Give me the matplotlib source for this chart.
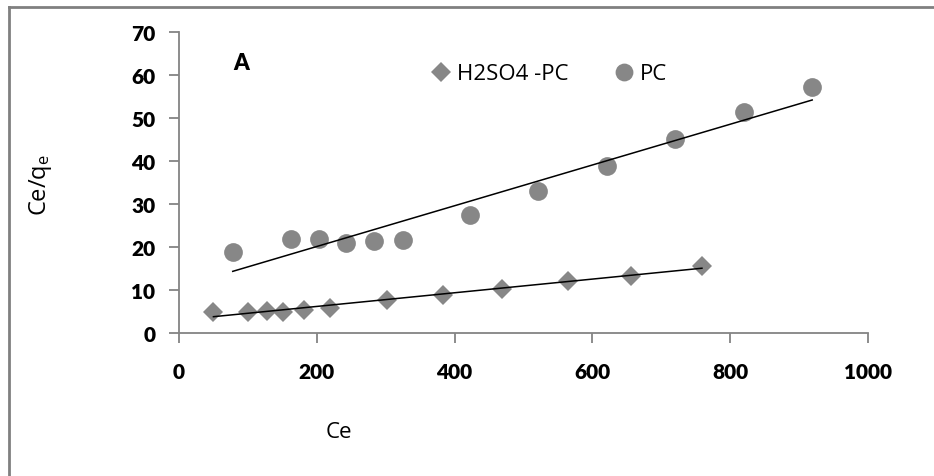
import numpy as np
from matplotlib import pyplot as plt
from matplotlib.lines import Line2D

# H2SO4 treated sample
acid_ce = [50, 100, 128, 151, 182, 219, 302, 383, 469, 565, 656, 759]
acid_ratio = [5.0, 4.8, 5.1, 5.0, 5.4, 5.9, 7.7, 8.8, 10.2, 12.2, 13.3, 15.6]

# untreated PC sample
pc_ce = [78, 162, 203, 242, 283, 325, 422, 521, 621, 720, 820, 919]
pc_ratio = [18.8, 21.9, 21.9, 20.9, 21.5, 21.7, 27.4, 33.0, 38.9, 45.2, 51.3, 57.1]

x_ticks = [0, 200, 400, 600, 800, 1000]
y_ticks = [0, 10, 20, 30, 40, 50, 60, 70]

W, H = 934, 477
gray = '#848484'
marker_col = '#878787'

plt.rcParams['font.family'] = ['Open Sans', 'DejaVu Sans']
plt.rcParams['mathtext.fontset'] = 'custom'
plt.rcParams['mathtext.rm'] = 'Open Sans'
plt.rcParams['mathtext.it'] = 'Open Sans'

fig = plt.figure(figsize=(W / 100, H / 100), dpi=100)
ax = fig.add_axes([179 / W, 1 - 334 / H, (868 - 179) / W, (334 - 33) / H])

ax.plot(acid_ce, acid_ratio, 'D', color=marker_col, markersize=10.5,
        markeredgewidth=0, label='H2SO4 -PC', zorder=3)
ax.plot(pc_ce, pc_ratio, 'o', color=marker_col, markersize=13.5,
        markeredgewidth=0, label='PC', zorder=3)

# linear trend lines
for xs, ys in [(acid_ce, acid_ratio), (pc_ce, pc_ratio)]:
    k, b = np.polyfit(xs, ys, 1)
    xl = np.array([min(xs), max(xs)])
    ax.plot(xl, k * xl + b, color='black', linewidth=1.1, zorder=4)

ax.set_xlim(0, 1000)
ax.set_ylim(0, 70)
tick_font = dict(family='Lato', fontweight='heavy', fontsize=15)
ax.set_xticks(x_ticks, labels=[str(v) for v in x_ticks], **tick_font)
ax.set_yticks(y_ticks, labels=[str(v) for v in y_ticks], **tick_font)

for side in ['top', 'right']:
    ax.spines[side].set_visible(False)
for side in ['left', 'bottom']:
    ax.spines[side].set_color(gray)
    ax.spines[side].set_linewidth(1.3)

ax.tick_params(axis='both', colors=gray, width=1.3, labelcolor='black')
ax.tick_params(axis='y', length=7, pad=10)
ax.tick_params(axis='x', length=7, pad=14)

ax.text(90, 63, 'A', family='Lato', weight='heavy', fontsize=16,
        ha='center', va='center')

fig.text(339 / W, 1 - 433 / H, 'Ce', fontsize=16, ha='center', va='center')
fig.text(40 / W, 1 - 185 / H, 'Ce/q$_\\mathregular{e}$', fontsize=17,
         rotation=90, ha='center', va='center')

leg = ax.legend(loc='center left', bbox_to_anchor=(433 / W, 1 - 75 / H),
                bbox_transform=fig.transFigure, ncol=2, frameon=False,
                fontsize=16, borderpad=0, borderaxespad=0, handlelength=0.75,
                handletextpad=0.35, columnspacing=2.1, markerscale=0.95)

# outer frame (top and left edges only)
fig.add_artist(Line2D([9 / W, 9 / W], [0, 1 - 8 / H], transform=fig.transFigure,
                      color='#808080', linewidth=2))
fig.add_artist(Line2D([9 / W, 1], [1 - 8 / H, 1 - 8 / H], transform=fig.transFigure,
                      color='#808080', linewidth=2))

fig.savefig('out.png', dpi=100)
